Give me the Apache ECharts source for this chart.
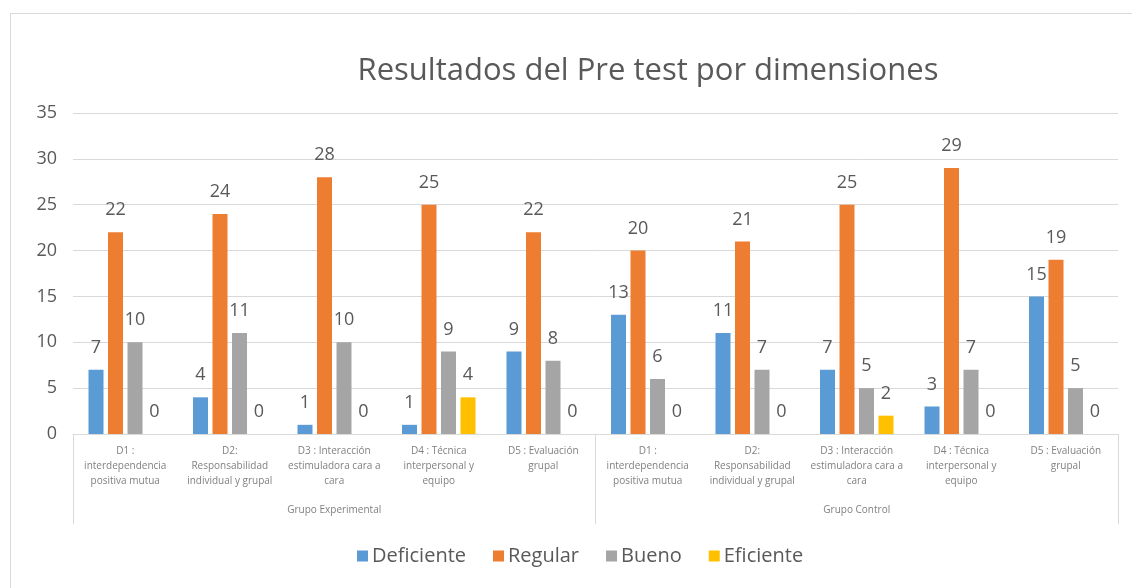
<!DOCTYPE html>
<html>
<head>
<meta charset="utf-8">
<script src="https://cdn.jsdelivr.net/npm/echarts@6/dist/echarts.min.js"></script>
<style>
  html, body { margin: 0; padding: 0; background: #fff; }
  #main { width: 1132px; height: 588px; }
</style>
</head>
<body>
<div id="main"></div>
<script>
// categorias (nivel 1) y grupos (nivel 2)
const dimensiones = [
  'D1 :\ninterdependencia\npositiva mutua',
  'D2:\nResponsabilidad\nindividual y grupal',
  'D3 : Interacción\nestimuladora cara a\ncara',
  'D4 : Técnica\ninterpersonal y\nequipo',
  'D5 : Evaluación\ngrupal',
  'D1 :\ninterdependencia\npositiva mutua',
  'D2:\nResponsabilidad\nindividual y grupal',
  'D3 : Interacción\nestimuladora cara a\ncara',
  'D4 : Técnica\ninterpersonal y\nequipo',
  'D5 : Evaluación\ngrupal'
];
const grupos = ['Grupo Experimental', 'Grupo Control'];

// valores por nivel
const deficiente = [7, 4, 1, 1, 9, 13, 11, 7, 3, 15];
const regular    = [22, 24, 28, 25, 22, 20, 21, 25, 29, 19];
const bueno      = [10, 11, 10, 9, 8, 6, 7, 5, 7, 5];
const eficiente  = [0, 0, 0, 4, 0, 0, 0, 2, 0, 0];

const yTicks = [0, 5, 10, 15, 20, 25, 30, 35];

const fuente = '"Open Sans", sans-serif';
const gris = '#595959';

let myChart = echarts.init(document.getElementById('main'));

function serie(name, data, color) {
  return {
    name: name,
    type: 'bar',
    data: data,
    barWidth: 15,
    barGap: '30%',
    itemStyle: { color: color },
    label: {
      show: true,
      position: 'top',
      distance: 13,
      fontSize: 18,
      fontFamily: fuente,
      color: gris
    }
  };
}

let option = {
  animation: false,
  textStyle: { fontFamily: fuente },
  title: {
    text: 'Resultados del Pre test por dimensiones',
    left: 643,
    top: 51,
    textAlign: 'center',
    textStyle: { fontSize: 31, fontWeight: 'normal', color: gris, fontFamily: fuente }
  },
  // marco del grafico
  graphic: [{
    type: 'rect',
    shape: { x: 10.5, y: 13.5, width: 1140, height: 600 },
    style: { fill: 'none', stroke: '#d9d9d9', lineWidth: 1 },
    silent: true
  }],
  legend: {
    left: 352,
    top: 541,
    itemWidth: 11,
    itemHeight: 11,
    itemGap: 27,
    icon: 'rect',
    textStyle: { fontSize: 20, color: gris, fontFamily: fuente, padding: [0, 0, 0, -1] }
  },
  grid: { left: 73, right: 14, top: 113, bottom: 154 },
  xAxis: [
    {
      type: 'category',
      data: dimensiones,
      axisTick: { show: false },
      axisLine: { lineStyle: { color: '#d9d9d9' } },
      axisLabel: {
        interval: 0,
        margin: 10,
        fontSize: 10,
        lineHeight: 15,
        color: '#808080',
        fontFamily: fuente
      }
    },
    {
      type: 'category',
      data: grupos,
      position: 'bottom',
      axisLine: { show: false },
      axisTick: { show: true, length: 90, lineStyle: { color: '#d9d9d9' } },
      axisLabel: {
        margin: 71,
        fontSize: 10,
        color: '#808080',
        fontFamily: fuente
      }
    }
  ],
  yAxis: {
    type: 'value',
    min: yTicks[0],
    max: yTicks[yTicks.length - 1],
    interval: 5,
    axisLine: { show: false },
    axisTick: { show: false },
    splitLine: { lineStyle: { color: '#d9d9d9' } },
    axisLabel: { fontSize: 18, color: gris, margin: 16, fontFamily: fuente }
  },
  series: [
    serie('Deficiente', deficiente, '#5B9BD5'),
    serie('Regular', regular, '#ED7D31'),
    serie('Bueno', bueno, '#A5A5A5'),
    serie('Eficiente', eficiente, '#FFC000')
  ]
};

myChart.setOption(option);
</script>
</body>
</html>
